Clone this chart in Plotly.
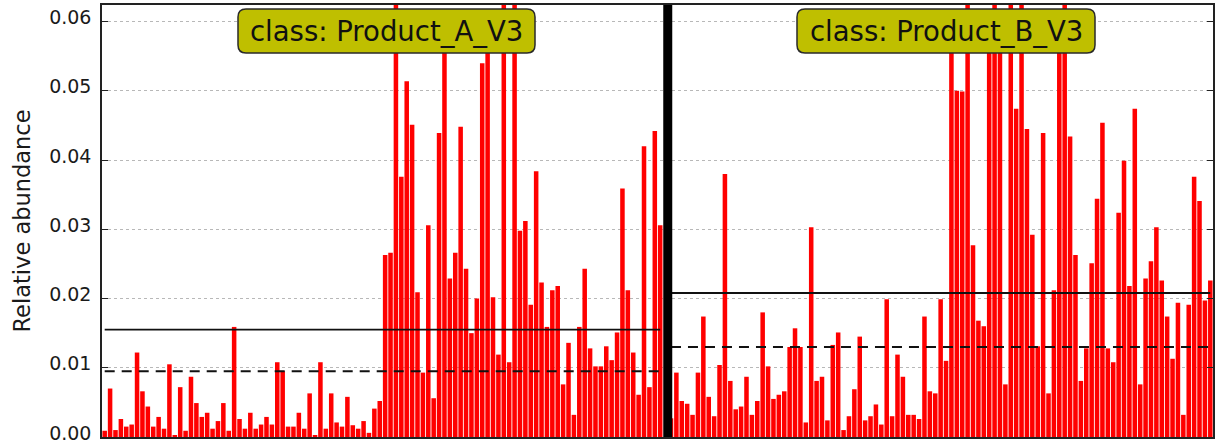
import plotly.graph_objects as go

# Per-sample relative abundance of the feature, grouped by class
class_names = ["Product_A_V3", "Product_B_V3"]

abund_A = [
    0.0009, 0.0070, 0.0010, 0.0026, 0.0015, 0.0018, 0.0122, 0.0066, 0.0044, 0.0015,
    0.0029, 0.0012, 0.0105, 0.0002, 0.0072, 0.0009, 0.0087, 0.0049, 0.0029, 0.0035,
    0.0012, 0.0023, 0.0049, 0.0009, 0.0159, 0.0026, 0.0012, 0.0035, 0.0012, 0.0018,
    0.0029, 0.0018, 0.0108, 0.0095, 0.0015, 0.0015, 0.0035, 0.0012, 0.0063, 0.0002,
    0.0108, 0.0012, 0.0063, 0.0021, 0.0015, 0.0058, 0.0017, 0.0012, 0.0023, 0.0006,
    0.0041, 0.0052, 0.0263, 0.0266, 0.0720, 0.0376, 0.0514, 0.0451, 0.0209, 0.0093,
    0.0306, 0.0056, 0.0439, 0.0590, 0.0229, 0.0266, 0.0448, 0.0243, 0.0150, 0.0200,
    0.0540, 0.0580, 0.0202, 0.0119, 0.0750, 0.0108, 0.0780, 0.0298, 0.0312, 0.0191,
    0.0384, 0.0223, 0.0159, 0.0212, 0.0218, 0.0076, 0.0136, 0.0032, 0.0159, 0.0243,
    0.0128, 0.0102, 0.0102, 0.0131, 0.0111, 0.0151, 0.0359, 0.0212, 0.0122, 0.0061,
    0.0420, 0.0072, 0.0442, 0.0306,
]

abund_B = [
    0.0027, 0.0093, 0.0052, 0.0048, 0.0032, 0.0093, 0.0174, 0.0058, 0.0030, 0.0104,
    0.0380, 0.0081, 0.0040, 0.0044, 0.0087, 0.0032, 0.0052, 0.0180, 0.0102, 0.0055,
    0.0061, 0.0066, 0.0130, 0.0157, 0.0130, 0.0021, 0.0303, 0.0081, 0.0087, 0.0024,
    0.0133, 0.0151, 0.0010, 0.0030, 0.0069, 0.0145, 0.0024, 0.0030, 0.0047, 0.0018,
    0.0199, 0.0030, 0.0119, 0.0087, 0.0032, 0.0032, 0.0026, 0.0174, 0.0066, 0.0063,
    0.0199, 0.0110, 0.0580, 0.0500, 0.0499, 0.0700, 0.0277, 0.0168, 0.0160, 0.0570,
    0.0720, 0.0600, 0.0076, 0.0650, 0.0474, 0.0680, 0.0445, 0.0292, 0.0131, 0.0439,
    0.0063, 0.0212, 0.0600, 0.0700, 0.0434, 0.0263, 0.0081, 0.0128, 0.0251, 0.0344,
    0.0454, 0.0128, 0.0108, 0.0324, 0.0399, 0.0218, 0.0474, 0.0076, 0.0229, 0.0254,
    0.0303, 0.0226, 0.0174, 0.0113, 0.0194, 0.0032, 0.0191, 0.0376, 0.0341, 0.0197,
    0.0226,
]

# Class summary statistics (solid = mean, dashed = median)
mean_A, median_A = 0.0155, 0.0095
mean_B, median_B = 0.0208, 0.0130

y_ticks = [0.00, 0.01, 0.02, 0.03, 0.04, 0.05, 0.06]
y_max = 0.0624

# ---- figure geometry -------------------------------------------------------
W, H = 1217, 445
M_L, M_R, M_T, M_B = 102, 4, 5, 8
PW, PH = W - M_L - M_R, H - M_T - M_B

FONT = "DejaVu Sans, Bitstream Vera Sans, sans-serif"
BAR_RED = "#ff0000"
BOX_FILL = "#bfbf00"

nA, nB = len(abund_A), len(abund_B)
GAP = 1  # empty slot holding the class separator
x_A = list(range(nA))
x_B = list(range(nA + GAP, nA + GAP + nB))
n_slots = nA + GAP + nB

fig = go.Figure()

fig.add_trace(go.Bar(x=x_A + x_B, y=abund_A + abund_B,
                     marker=dict(color=BAR_RED, line=dict(width=0)),
                     hoverinfo="y", showlegend=False))

# mean / median lines spanning each class
for xs, m, md in ((x_A, mean_A, median_A), (x_B, mean_B, median_B)):
    fig.add_trace(go.Scatter(x=[xs[0], xs[-1]], y=[m, m], mode="lines",
                             line=dict(color="#111111", width=1.8),
                             hoverinfo="skip", showlegend=False))
    fig.add_trace(go.Scatter(x=[xs[0], xs[-1]], y=[md, md], mode="lines",
                             line=dict(color="#111111", width=2, dash="10px,7px"),
                             hoverinfo="skip", showlegend=False))

# thick separator between the two classes
sep_x = nA + 0.4
fig.add_shape(type="line", xref="x", yref="paper",
              x0=sep_x, x1=sep_x, y0=0, y1=1,
              line=dict(color="black", width=9), layer="above")


def px_to_paper(px, py):
    return (px - M_L) / PW, 1 - (py - M_T) / PH


def rounded_box(x0, y0, x1, y1, r):
    """Rounded rectangle path (pixel corners) expressed in paper coordinates."""
    def p(x, y):
        u, v = px_to_paper(x, y)
        return f"{u:.5f},{v:.5f}"
    return (f"M {p(x0 + r, y0)} L {p(x1 - r, y0)} Q {p(x1, y0)} {p(x1, y0 + r)} "
            f"L {p(x1, y1 - r)} Q {p(x1, y1)} {p(x1 - r, y1)} "
            f"L {p(x0 + r, y1)} Q {p(x0, y1)} {p(x0, y1 - r)} "
            f"L {p(x0, y0 + r)} Q {p(x0, y0)} {p(x0 + r, y0)} Z")


label_boxes = [(238, 9, 535, 53), (797, 9, 1095, 53)]
for name, (bx0, by0, bx1, by1) in zip(class_names, label_boxes):
    fig.add_shape(type="path", xref="paper", yref="paper",
                  path=rounded_box(bx0, by0, bx1, by1, 8),
                  fillcolor=BOX_FILL, line=dict(color="#2a2a2a", width=1.5),
                  layer="above")
    cx, cy = px_to_paper((bx0 + bx1) / 2, (by0 + by1) / 2)
    fig.add_annotation(x=cx, y=cy, xref="paper", yref="paper",
                       text=f"class: {name}", showarrow=False,
                       xanchor="center", yanchor="middle",
                       font=dict(family=FONT, size=27.5, color="#111111"))

fig.update_layout(
    width=W, height=H,
    margin=dict(l=M_L, r=M_R, t=M_T, b=M_B, pad=0, autoexpand=False),
    paper_bgcolor="white", plot_bgcolor="white",
    bargap=0.16,
    font=dict(family=FONT, color="#1a1a1a"),
)

fig.update_xaxes(range=[-0.5, n_slots - 0.5], showticklabels=False, ticks="",
                 showgrid=False, zeroline=False, automargin=False,
                 showline=True, mirror=True, linecolor="#222222", linewidth=1.5)

fig.update_yaxes(range=[-0.000001, y_max], tickvals=y_ticks,
                 ticktext=[f"{v:.2f}" for v in y_ticks],
                 tickfont=dict(family=FONT, size=19, color="#1a1a1a"),
                 ticklabeloverflow="allow", automargin=False, ticklabelshift=-4,
                 ticklabelstandoff=5,
                 ticks="inside", ticklen=6, tickwidth=1.2, tickcolor="#222222",
                 showline=True, mirror="ticks", linecolor="#222222", linewidth=1.5,
                 showgrid=True, gridcolor="#b8b8b8", gridwidth=1, griddash="3px,3px",
                 zeroline=False,
                 title=dict(text="Relative abundance", standoff=12,
                            font=dict(family=FONT, size=22.5, color="#1a1a1a")))

fig.write_html("out.html")
